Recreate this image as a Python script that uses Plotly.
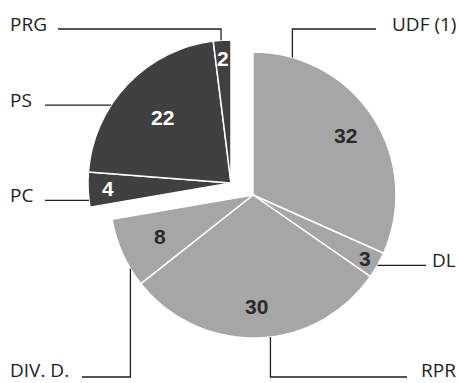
import math
import plotly.graph_objects as go

# ---- data ----
labels = ["UDF (1)", "DL", "RPR", "DIV. D.", "PC", "PS", "PRG"]
seats = [32, 3, 30, 8, 4, 22, 2]
groups = ["droite", "droite", "droite", "droite", "gauche", "gauche", "gauche"]

# ---- layout / style config ----
W, H = 460, 383
R = 143
CENTERS = {"droite": (253, 195), "gauche": (231, 183)}
FILL = {"droite": "#a6a6a6", "gauche": "#404040"}
TXT = {"droite": "#2a2a2a", "gauche": "#ffffff"}
LINE = "#1e1e1e"
LABEL_FONT = dict(family="Open Sans", size=19, color="#1e1e1e")
NUM_FONT = dict(family="Liberation Sans", size=21, weight="bold")
LABEL_MAX_Y = 370  # keep outer labels fully inside the picture

# radial position (fraction of radius) of the value inside each slice
NUM_RADIUS = {"UDF (1)": 0.77, "DL": 0.90, "RPR": 0.78, "DIV. D.": 0.71,
              "PC": 0.86, "PS": 0.66, "PRG": 0.87}

# leader: anchor angle (deg clockwise from 12 o'clock on its slice's circle),
# optional vertical elbow y, horizontal end x, label side
LEADERS = {
    "UDF (1)": dict(angle=16, elbow_y=29, end_x=376, side="right"),
    "DL": dict(angle=119.5, elbow_y=None, end_x=426, side="right"),
    "RPR": dict(angle=173, elbow_y=377, end_x=407, side="right"),
    "DIV. D.": dict(angle=239, elbow_y=377, end_x=82, side="left"),
    "PC": dict(angle=263, elbow_y=None, end_x=45, side="left"),
    "PS": dict(angle=303, elbow_y=None, end_x=45, side="left"),
    "PRG": dict(angle=356, elbow_y=29, end_x=58, side="left"),
}


def px(x):
    return x / W


def py(y):
    return 1 - y / H


fig = go.Figure()
for g in ["droite", "gauche"]:
    cx, cy = CENTERS[g]
    inside = [gr == g for gr in groups]
    fig.add_trace(go.Pie(
        labels=labels,
        values=seats,
        sort=False,
        direction="clockwise",
        rotation=0,
        domain=dict(x=[px(cx - R), px(cx + R)], y=[py(cy + R), py(cy - R)]),
        marker=dict(
            colors=[FILL[g] if m else "rgba(0,0,0,0)" for m in inside],
            line=dict(color=["#ffffff" if m else "rgba(0,0,0,0)" for m in inside], width=1.5),
        ),
        textinfo="none",
        hoverinfo="label+value",
        showlegend=False,
    ))

total = sum(seats)
shapes = []
annotations = []
cum = 0
for lab, v, g in zip(labels, seats, groups):
    cx, cy = CENTERS[g]
    # value inside slice, at its mid-angle
    mid = math.radians((cum + v / 2) / total * 360)
    cum += v
    rr = NUM_RADIUS[lab] * R
    annotations.append(dict(
        x=px(cx + rr * math.sin(mid)), y=py(cy - rr * math.cos(mid)),
        xref="paper", yref="paper", text=str(v), showarrow=False,
        xanchor="center", yanchor="middle",
        font=dict(NUM_FONT, color=TXT[g])))

    # leader line + outer label
    cfg = LEADERS[lab]
    a = math.radians(cfg["angle"])
    x0 = cx + R * math.sin(a)
    y0 = cy - R * math.cos(a)
    pts = [(x0, y0)]
    if cfg["elbow_y"] is not None:
        pts.append((x0, cfg["elbow_y"]))
        ly = cfg["elbow_y"]
    else:
        ly = y0
    pts.append((cfg["end_x"], ly))
    path = "M " + " L ".join(f"{px(x):.5f},{py(y):.5f}" for x, y in pts)
    shapes.append(dict(type="path", path=path, xref="paper", yref="paper",
                       line=dict(color=LINE, width=1.3)))
    ty = min(ly - 5, LABEL_MAX_Y)
    if cfg["side"] == "left":
        annotations.append(dict(x=px(9), y=py(ty), xref="paper", yref="paper",
                                text=lab, showarrow=False, xanchor="left", yanchor="middle",
                                borderpad=0, font=LABEL_FONT))
    else:
        annotations.append(dict(x=px(457), y=py(ty), xref="paper", yref="paper",
                                text=lab, showarrow=False, xanchor="right", yanchor="middle",
                                borderpad=0, font=LABEL_FONT))

fig.update_layout(
    width=W, height=H,
    margin=dict(l=0, r=0, t=0, b=0),
    paper_bgcolor="#ffffff",
    plot_bgcolor="#ffffff",
    shapes=shapes,
    annotations=annotations,
)

fig.write_html("out.html")
